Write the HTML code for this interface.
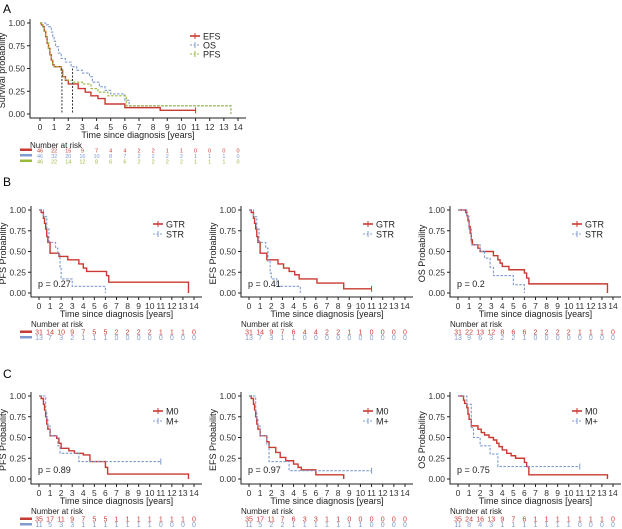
<!DOCTYPE html>
<html><head><meta charset="utf-8">
<style>
html,body{margin:0;padding:0;background:#fff;}
svg{display:block;font-family:"Liberation Sans",Arial,sans-serif;}
</style></head>
<body>
<svg id="fig" width="622" height="529" viewBox="0 0 622 529" xmlns="http://www.w3.org/2000/svg">
<text x="3" y="13" font-size="12">A</text>
<text x="3" y="186" font-size="12">B</text>
<text x="3" y="378" font-size="12">C</text>
</svg>
<script>
// ---- data ----
const xTicks = [0,1,2,3,4,5,6,7,8,9,10,11,12,13,14];
const yTicks = [0,0.25,0.5,0.75,1];
const yTickLabels = ["0.00","0.25","0.50","0.75","1.00"];

const aEfsT = [0,0.1,0.2,0.3,0.4,0.5,0.6,0.7,0.8,0.9,1.0,1.5,1.6,1.8,2.0,2.7,3.2,3.6,4.1,4.6,6.0,8.5,11];
const aEfsS = [1,0.98,0.96,0.91,0.85,0.78,0.72,0.65,0.59,0.54,0.52,0.48,0.41,0.37,0.33,0.28,0.24,0.20,0.17,0.11,0.07,0.04,0.04];
const aOsT = [0,0.4,0.6,0.8,0.9,1.0,1.1,1.3,1.5,1.8,2.2,2.6,3.0,3.5,3.7,4.2,4.6,5.0,6.0,6.3,13.5];
const aOsS = [1,0.98,0.96,0.9,0.85,0.8,0.74,0.67,0.61,0.57,0.52,0.48,0.45,0.41,0.35,0.30,0.26,0.22,0.15,0.09,0.0];
const aPfsT = [0,0.1,0.2,0.3,0.4,0.5,0.6,0.7,0.8,0.9,1.0,1.5,1.6,1.8,2.3,3.0,3.6,4.1,4.8,6.1,13.5];
const aPfsS = [1,0.98,0.96,0.91,0.85,0.78,0.72,0.65,0.59,0.54,0.52,0.48,0.41,0.37,0.35,0.33,0.28,0.24,0.20,0.09,0.0];
const aRiskEfs = [46,22,15,9,7,4,4,2,2,1,1,0,0,0,0];
const aRiskOs = [46,32,20,16,10,8,7,2,2,2,2,1,1,1,0];
const aRiskPfs = [46,22,14,12,8,6,6,2,2,2,2,1,1,1,0];
const aMedians = [1.55,2.3];

const b1GtrT = [0,0.2,0.4,0.5,0.6,0.7,0.8,1.0,1.8,2.6,3.6,4.0,4.3,6.1,6.3,13.5];
const b1GtrS = [1,0.97,0.9,0.84,0.77,0.68,0.61,0.48,0.44,0.40,0.35,0.30,0.26,0.21,0.13,0.0];
const b1StrT = [0,0.4,0.7,0.9,1.5,1.7,1.9,2.0,3.0,6.0];
const b1StrS = [1,0.92,0.77,0.61,0.54,0.46,0.31,0.17,0.08,0.0];
const b1RiskGtr = [31,14,10,9,7,5,5,2,2,2,2,1,1,1,0];
const b1RiskStr = [13,7,3,2,1,1,1,0,0,0,0,0,0,0,0];

const b2GtrT = [0,0.2,0.4,0.5,0.6,0.7,0.8,1.0,1.6,2.6,3.1,3.6,4.1,4.5,6.1,8.5,11];
const b2GtrS = [1,0.97,0.9,0.84,0.77,0.68,0.61,0.48,0.40,0.35,0.30,0.26,0.22,0.17,0.12,0.05,0.05];
const b2StrT = [0,0.4,0.7,0.9,1.5,1.7,1.9,2.0,2.5,4.6];
const b2StrS = [1,0.92,0.77,0.61,0.54,0.38,0.24,0.17,0.08,0.0];
const b2RiskGtr = [31,14,9,7,6,4,4,2,2,1,1,0,0,0,0];
const b2RiskStr = [13,7,3,1,1,0,0,0,0,0,0,0,0,0,0];

const b3GtrT = [0,0.7,0.8,0.9,1.0,1.1,1.2,1.3,1.8,2.0,3.2,3.6,3.8,4.0,4.6,6.0,6.2,6.4,13.5];
const b3GtrS = [1,0.97,0.93,0.87,0.80,0.72,0.64,0.58,0.54,0.50,0.45,0.40,0.36,0.32,0.28,0.24,0.18,0.11,0.0];
const b3StrT = [0,0.8,1.0,1.2,2.0,2.4,2.9,3.2,5.0,6.0];
const b3StrS = [1,0.92,0.77,0.58,0.50,0.42,0.31,0.21,0.10,0.0];
const b3RiskGtr = [31,22,13,12,8,6,6,2,2,2,2,1,1,1,0];
const b3RiskStr = [13,9,6,3,2,2,1,0,0,0,0,0,0,0,0];

const c1M0T = [0,0.2,0.4,0.5,0.6,0.7,0.8,1.0,1.6,1.8,2.0,2.7,3.2,4.0,4.6,6.0,6.2,13.5];
const c1M0S = [1,0.97,0.9,0.83,0.75,0.66,0.60,0.52,0.49,0.43,0.37,0.34,0.31,0.29,0.21,0.14,0.06,0.0];
const c1MpT = [0,0.6,0.7,0.8,1.0,1.7,1.9,3.6,11];
const c1MpS = [1,0.82,0.73,0.64,0.52,0.40,0.31,0.21,0.21];
const c1RiskM0 = [35,17,11,9,7,5,5,1,1,1,1,1,1,1,0];
const c1RiskMp = [11,5,3,3,1,1,1,1,1,1,1,0,0,0,0];

const c2M0T = [0,0.2,0.4,0.5,0.6,0.7,0.8,1.0,1.6,1.8,2.4,2.8,3.3,4.0,4.4,4.7,6.0,8.5];
const c2M0S = [1,0.97,0.9,0.83,0.75,0.66,0.60,0.52,0.45,0.38,0.32,0.26,0.22,0.18,0.14,0.11,0.05,0.0];
const c2MpT = [0,0.6,0.7,0.8,1.0,1.6,1.8,3.6,11];
const c2MpS = [1,0.82,0.73,0.64,0.52,0.41,0.21,0.10,0.10];
const c2RiskM0 = [35,17,11,7,6,3,3,1,1,0,0,0,0,0,0];
const c2RiskMp = [11,5,2,2,1,1,1,1,1,1,1,0,0,0,0];

const c3M0T = [0,0.5,0.6,0.8,0.9,1.0,1.2,1.8,2.1,2.4,2.8,3.2,3.5,3.7,4.0,4.4,4.8,5.2,6.0,6.2,6.4,13.5];
const c3M0S = [1,0.95,0.91,0.86,0.78,0.72,0.64,0.60,0.56,0.53,0.50,0.47,0.43,0.39,0.35,0.31,0.28,0.25,0.20,0.15,0.05,0.0];
const c3MpT = [0,0.8,1.2,1.4,2.0,2.9,3.6,11];
const c3MpS = [1,0.90,0.62,0.50,0.40,0.30,0.15,0.15];
const c3RiskM0 = [35,24,16,13,9,7,6,1,1,1,1,1,1,1,0];
const c3RiskMp = [11,8,4,3,1,1,1,1,1,1,1,0,0,0,0];

const RED="#c93a32", BLUE="#7f9bd0", GREEN="#9ab83a";
const svg=document.getElementById('fig');
const NS="http://www.w3.org/2000/svg";
function mk(tag,attrs,parent){const e=document.createElementNS(NS,tag);for(const k in attrs)e.setAttribute(k,attrs[k]);(parent||svg).appendChild(e);return e;}
function txt(x,y,s,size,fill,anchor,parent){const t=mk('text',{x:x,y:y,'font-size':size,fill:fill||'#222','text-anchor':anchor||'start'},parent);t.textContent=s;return t;}

function panel(p){
  const g=mk('g',{});
  
  
  const sx=t=>p.x0+(p.x14-p.x0)*t/14;
  const sy=v=>p.y0-(p.y0-p.y1)*v;
  const ax=mk('path',{d:`M${p.ax},${p.y1-4}V${p.xa}H${p.x14+8}`,stroke:'#222','stroke-width':1,fill:'none'},g);
  
  
  yTicks.forEach((v,i)=>{
    mk('line',{x1:p.ax-3,x2:p.ax,y1:sy(v),y2:sy(v),stroke:'#222'},g);
    const t=txt(p.ax-5,sy(v)+3,yTickLabels[i],8.5,'#333','end',g);
    
    
  });
  xTicks.forEach(v=>{
    mk('line',{x1:sx(v),x2:sx(v),y1:p.xa,y2:p.xa+3,stroke:'#222'},g);
    const t=txt(sx(v),p.xa+12,String(v),8.5,'#333','middle',g);
    
    
  });
  const xt=txt((p.ax+p.x14+8)/2,p.xa+20,'Time since diagnosis [years]',9,'#222','middle',g);
  
  
  const ymid=(p.y1+p.xa)/2;
  const yt=txt(0,0,p.ylab,9,'#222','middle',g);
  yt.setAttribute('transform',`translate(${p.ax-25},${ymid}) rotate(-90)`);
  
  
  p.series.forEach(s=>{
    let d=`M${sx(s.t[0])},${sy(s.s[0])}`;
    for(let i=1;i<s.t.length;i++){d+=`H${sx(s.t[i])}V${sy(s.s[i])}`;}
    const c=mk('path',{d:d,stroke:s.col,'stroke-width':s.dash?1.1:1.4,fill:'none','stroke-dasharray':s.dash?'2.5,1.5':'none'},g);
    
    
    const last=s.t.length-1;
    if(s.s[last]>0){mk('line',{x1:sx(s.t[last]),x2:sx(s.t[last]),y1:sy(s.s[last])-3,y2:sy(s.s[last])+3,stroke:s.col},g);}
  });
  if(p.medians){p.medians.forEach(m=>{
    const l=mk('line',{x1:sx(m),x2:sx(m),y1:sy(0.5),y2:sy(0),stroke:'#333','stroke-dasharray':'2,1.5'},g);
    
    
  });}
  if(p.pval){const t=txt(p.ax+7,p.y0-6,p.pval,9,'#222','start',g);
    
    }
  p.series.forEach((s,i)=>{
    const ly=p.ly+i*p.lstep;
    const le=mk('g',{},g);
    
    
    mk('line',{x1:p.lx,x2:p.lx+10,y1:ly,y2:ly,stroke:s.col,'stroke-width':s.dash?1.1:1.6,'stroke-dasharray':s.dash?'2,1.5':'none'},le);
    mk('line',{x1:p.lx+5,x2:p.lx+5,y1:ly-3,y2:ly+3,stroke:s.col},le);
    txt(p.lx+13,ly+3.5,s.label,9,'#222','start',le);
  });
  const nr=txt(p.ax,p.xa+30,'Number at risk',8,'#222','start',g);
  
  
  p.series.forEach((s,i)=>{
    const ry=p.xa+p.r0+i*p.rstep;
    mk('rect',{x:20,y:ry-2.5,width:12,height:2.5,fill:s.col},g);
    s.risk.forEach((n,j)=>{
      const t=txt(sx(xTicks[j]),ry+1.5,String(n),p.rsize,s.col,'middle',g);
      
      
    });
  });
}

panel({name:'panel-a-overall',ax:30,x0:40,x14:238,y1:23,y0:114,xa:118,ylab:'Survival probability',medians:aMedians,
  lx:190,ly:36,lstep:9,r0:33,rstep:5.5,rsize:5.5,
  series:[{t:aEfsT,s:aEfsS,col:RED,dash:false,label:'EFS',risk:aRiskEfs},
          {t:aOsT,s:aOsS,col:BLUE,dash:true,label:'OS',risk:aRiskOs},
          {t:aPfsT,s:aPfsS,col:GREEN,dash:true,label:'PFS',risk:aRiskPfs}]});

const bRow={y1:210,y0:293,xa:297,ly:224,lstep:10,r0:36,rstep:5.5,rsize:7};
const cRow={y1:396,y0:479,xa:484,ly:411,lstep:10,r0:36,rstep:5.5,rsize:7};
const cols=[{ax:31,x0:39,x14:194},{ax:241,x0:249,x14:405},{ax:450,x0:458,x14:613}];
function colP(row,c,extra){return Object.assign({},row,cols[c],{lx:cols[c].ax+122},extra);}

panel(colP(bRow,0,{name:'panel-b-pfs',ylab:'PFS Probability',pval:'p = 0.27',series:[
  {t:b1GtrT,s:b1GtrS,col:RED,dash:false,label:'GTR',risk:b1RiskGtr},{t:b1StrT,s:b1StrS,col:BLUE,dash:true,label:'STR',risk:b1RiskStr}]}));
panel(colP(bRow,1,{name:'panel-b-efs',ylab:'EFS Probability',pval:'p = 0.41',series:[
  {t:b2GtrT,s:b2GtrS,col:RED,dash:false,label:'GTR',risk:b2RiskGtr},{t:b2StrT,s:b2StrS,col:BLUE,dash:true,label:'STR',risk:b2RiskStr}]}));
panel(colP(bRow,2,{name:'panel-b-os',ylab:'OS Probability',pval:'p = 0.2',series:[
  {t:b3GtrT,s:b3GtrS,col:RED,dash:false,label:'GTR',risk:b3RiskGtr},{t:b3StrT,s:b3StrS,col:BLUE,dash:true,label:'STR',risk:b3RiskStr}]}));
panel(colP(cRow,0,{name:'panel-c-pfs',ylab:'PFS Probability',pval:'p = 0.89',series:[
  {t:c1M0T,s:c1M0S,col:RED,dash:false,label:'M0',risk:c1RiskM0},{t:c1MpT,s:c1MpS,col:BLUE,dash:true,label:'M+',risk:c1RiskMp}]}));
panel(colP(cRow,1,{name:'panel-c-efs',ylab:'EFS Probability',pval:'p = 0.97',series:[
  {t:c2M0T,s:c2M0S,col:RED,dash:false,label:'M0',risk:c2RiskM0},{t:c2MpT,s:c2MpS,col:BLUE,dash:true,label:'M+',risk:c2RiskMp}]}));
panel(colP(cRow,2,{name:'panel-c-os',ylab:'OS Probability',pval:'p = 0.75',series:[
  {t:c3M0T,s:c3M0S,col:RED,dash:false,label:'M0',risk:c3RiskM0},{t:c3MpT,s:c3MpS,col:BLUE,dash:true,label:'M+',risk:c3RiskMp}]}));
</script>
</body></html>
